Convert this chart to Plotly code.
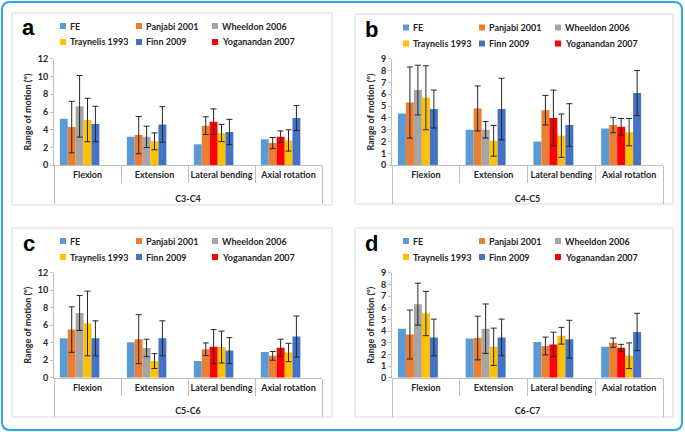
import plotly.graph_objects as go

# ---------------- data ----------------
categories = ["Flexion", "Extension", "Lateral bending", "Axial rotation"]
levels = ["C3-C4", "C4-C5", "C5-C6", "C6-C7"]
panel_letters = ["a", "b", "c", "d"]
y_max = [12, 9, 12, 9]
y_dtick = [2, 1, 2, 1]

series_names = ["FE", "Panjabi 2001", "Wheeldon 2006", "Traynelis 1993", "Finn 2009", "Yoganandan 2007"]
series_colors = ["#5b9bd5", "#ed7d31", "#a5a5a5", "#ffc000", "#4472c4", "#ff0000"]
# slot of each series inside a category group (Wheeldon and Yoganandan share a slot)
series_slots = ["1", "2", "3", "4", "5", "3"]
empty_slots = ["6", "7"]

# C3-C4
fe_c3c4 = [5.25, 3.22, 2.36, 2.93]
panjabi_c3c4 = [4.3, 3.4, 4.46, 2.5]
panjabi_c3c4_err = [2.9, 2.1, 1.0, 0.63]
wheeldon_c3c4 = [6.64, 3.2, None, None]
wheeldon_c3c4_err = [3.47, 1.2, None, None]
traynelis_c3c4 = [5.1, 2.7, 3.64, 2.8]
traynelis_c3c4_err = [2.45, 0.95, 0.97, 1.2]
finn_c3c4 = [4.65, 4.6, 3.75, 5.32]
finn_c3c4_err = [2.0, 2.0, 1.42, 1.4]
yoganandan_c3c4 = [None, None, 4.9, 3.22]
yoganandan_c3c4_err = [None, None, 1.45, 0.65]

# C4-C5
fe_c4c5 = [4.38, 3.0, 2.0, 3.1]
panjabi_c4c5 = [5.3, 4.8, 4.65, 3.4]
panjabi_c4c5_err = [3.0, 1.9, 1.25, 0.65]
wheeldon_c4c5 = [6.35, 3.0, None, None]
wheeldon_c4c5_err = [2.1, 0.7, None, None]
traynelis_c4c5 = [5.7, 2.07, 2.5, 2.8]
traynelis_c4c5_err = [2.7, 1.3, 1.83, 1.15]
finn_c4c5 = [4.75, 4.75, 3.4, 6.1]
finn_c4c5_err = [1.6, 2.6, 1.8, 1.9]
yoganandan_c4c5 = [None, None, 4.0, 3.25]
yoganandan_c4c5_err = [None, None, 2.35, 0.7]

# C5-C6
fe_c5c6 = [4.5, 4.05, 1.9, 2.95]
panjabi_c5c6 = [5.5, 4.4, 3.25, 2.5]
panjabi_c5c6_err = [2.6, 2.8, 0.72, 0.5]
wheeldon_c5c6 = [7.4, 3.4, None, None]
wheeldon_c5c6_err = [2.0, 1.0, None, None]
traynelis_c5c6 = [6.2, 1.9, 3.5, 2.88]
traynelis_c5c6_err = [3.7, 0.85, 1.82, 1.05]
finn_c5c6 = [4.5, 4.5, 3.1, 4.7]
finn_c5c6_err = [2.0, 2.0, 1.48, 2.35]
yoganandan_c5c6 = [None, None, 3.55, 3.42]
yoganandan_c5c6_err = [None, None, 1.95, 0.98]

# C6-C7
fe_c6c7 = [4.2, 3.36, 3.05, 2.65]
panjabi_c6c7 = [3.7, 3.4, 2.72, 3.0]
panjabi_c6c7_err = [2.1, 1.87, 0.76, 0.4]
wheeldon_c6c7 = [6.3, 4.2, None, None]
wheeldon_c6c7_err = [1.8, 2.12, None, None]
traynelis_c6c7 = [5.5, 2.65, 3.6, 1.88]
traynelis_c6c7_err = [1.9, 1.6, 0.72, 1.1]
finn_c6c7 = [3.45, 3.45, 3.3, 3.92]
finn_c6c7_err = [1.57, 1.57, 1.62, 1.6]
yoganandan_c6c7 = [None, None, 2.85, 2.56]
yoganandan_c6c7_err = [None, None, 1.05, 0.3]

panels = [
    [(fe_c3c4, None), (panjabi_c3c4, panjabi_c3c4_err), (wheeldon_c3c4, wheeldon_c3c4_err),
     (traynelis_c3c4, traynelis_c3c4_err), (finn_c3c4, finn_c3c4_err), (yoganandan_c3c4, yoganandan_c3c4_err)],
    [(fe_c4c5, None), (panjabi_c4c5, panjabi_c4c5_err), (wheeldon_c4c5, wheeldon_c4c5_err),
     (traynelis_c4c5, traynelis_c4c5_err), (finn_c4c5, finn_c4c5_err), (yoganandan_c4c5, yoganandan_c4c5_err)],
    [(fe_c5c6, None), (panjabi_c5c6, panjabi_c5c6_err), (wheeldon_c5c6, wheeldon_c5c6_err),
     (traynelis_c5c6, traynelis_c5c6_err), (finn_c5c6, finn_c5c6_err), (yoganandan_c5c6, yoganandan_c5c6_err)],
    [(fe_c6c7, None), (panjabi_c6c7, panjabi_c6c7_err), (wheeldon_c6c7, wheeldon_c6c7_err),
     (traynelis_c6c7, traynelis_c6c7_err), (finn_c6c7, finn_c6c7_err), (yoganandan_c6c7, yoganandan_c6c7_err)],
]

# ---------------- layout geometry (pixels) ----------------
W, H = 685, 432
FONT = "Lato"
TXT = "#262626"
AX = "#bfbfbf"

# plot areas: (x0, x1, ytop, ybottom)
plot_px = [(54, 322, 58.7, 165.3), (392, 663, 58.7, 165.3),
           (54, 322, 272.7, 377.7), (392, 663, 272.7, 377.7)]
frame_px = [(12, 332, 13, 205), (355, 673, 14, 204), (12, 332, 228, 417), (355, 673, 228, 417)]
letter_px = [(28, 28), (371, 30), (29, 244), (371, 244)]
legend_px = [(63, 26), (406, 27.5), (63, 241), (406, 241)]
legend_dx, legend_dy = 76, 16


def px(x):
    return x / W


def py(y):
    return 1 - y / H


fig = go.Figure()

for p in range(4):
    sfx = "" if p == 0 else str(p + 1)
    xa, ya = "x" + sfx, "y" + sfx
    # outer level label is placed one line lower, as in the original chart
    xcat = [["<br>" + levels[p]] * len(categories), categories]
    for s, (vals, err) in enumerate(panels[p]):
        eb = dict(visible=False)
        if err is not None:
            eb = dict(type="data", array=err, symmetric=True, color=TXT, thickness=1, width=3)
        fig.add_trace(go.Bar(
            x=xcat, y=vals, name=series_names[s], offsetgroup=series_slots[s],
            marker=dict(color=series_colors[s], line=dict(width=0)),
            error_y=eb, xaxis=xa, yaxis=ya, showlegend=False,
            hovertemplate=series_names[s] + ": %{y}<extra></extra>"))
    for slot in empty_slots:
        fig.add_trace(go.Bar(x=xcat, y=[None] * len(categories), offsetgroup=slot,
                             xaxis=xa, yaxis=ya, showlegend=False, hoverinfo="skip"))

    x0, x1, yt, yb = plot_px[p]
    fig.layout["xaxis" + sfx] = dict(
        domain=[px(x0), px(x1)], anchor=ya, type="multicategory", automargin=False,
        showline=True, linecolor=AX, linewidth=1, tickangle=0,
        ticks="outside", tickson="boundaries", ticklen=17, tickcolor=AX, tickwidth=1,
        ticklabelstandoff=1,
        showdividers=True, dividercolor=AX, dividerwidth=1,
        tickfont=dict(family=FONT, size=9, color=TXT, weight="bold"),
        showgrid=False, zeroline=False, fixedrange=True)
    fig.layout["yaxis" + sfx] = dict(
        domain=[py(yb), py(yt)], anchor=xa, range=[0, y_max[p]], dtick=y_dtick[p],
        automargin=False,
        showline=True, linecolor=AX, linewidth=1, ticks="outside", ticklen=3, tickcolor=AX,
        tickfont=dict(family=FONT, size=9, color=TXT, weight="bold"),
        title=dict(text="Range of motion (°)", standoff=4,
                   font=dict(family=FONT, size=9, color=TXT, weight="bold")),
        showgrid=False, zeroline=False, fixedrange=True)

shapes = []
annotations = []
for p in range(4):
    fx0, fx1, fy0, fy1 = frame_px[p]
    shapes.append(dict(type="rect", xref="paper", yref="paper", x0=px(fx0), x1=px(fx1),
                       y0=py(fy1), y1=py(fy0), line=dict(color="#d9d9d9", width=1), layer="below"))
    lx, ly = letter_px[p]
    annotations.append(dict(xref="paper", yref="paper", x=px(lx), y=py(ly), text=panel_letters[p],
                            showarrow=False, xanchor="center", yanchor="middle",
                            font=dict(family="Liberation Sans", size=22, color="#000000", weight="bold")))
    gx, gy = legend_px[p]
    for s, name in enumerate(series_names):
        cx = gx + (s % 3) * legend_dx
        cy = gy + (s // 3) * legend_dy
        shapes.append(dict(type="rect", xref="paper", yref="paper",
                           x0=px(cx - 3), x1=px(cx + 3), y0=py(cy + 3), y1=py(cy - 3),
                           fillcolor=series_colors[s], line=dict(width=0)))
        annotations.append(dict(xref="paper", yref="paper", x=px(cx + 5), y=py(cy), text=name,
                                showarrow=False, xanchor="left", yanchor="middle",
                                font=dict(family=FONT, size=9, color=TXT, weight="bold")))

# outer rounded frame
r = 8
L, T, R, B = 2, 2, 682, 430
path = (f"M {px(L + r)},{py(T)} L {px(R - r)},{py(T)} Q {px(R)},{py(T)} {px(R)},{py(T + r)} "
        f"L {px(R)},{py(B - r)} Q {px(R)},{py(B)} {px(R - r)},{py(B)} "
        f"L {px(L + r)},{py(B)} Q {px(L)},{py(B)} {px(L)},{py(B - r)} "
        f"L {px(L)},{py(T + r)} Q {px(L)},{py(T)} {px(L + r)},{py(T)} Z")
shapes.append(dict(type="path", xref="paper", yref="paper", path=path,
                   line=dict(color="#2aa7e0", width=2)))

fig.update_layout(
    width=W, height=H, margin=dict(l=0, r=0, t=0, b=0, autoexpand=False),
    paper_bgcolor="white", plot_bgcolor="white",
    barmode="group", bargap=0.175, bargroupgap=0,
    showlegend=False, shapes=shapes, annotations=annotations,
    font=dict(family=FONT, color=TXT),
)

fig.write_html("out.html", config={"displayModeBar": False},
               post_script="document.body.style.margin='0';document.body.style.overflow='hidden';")
